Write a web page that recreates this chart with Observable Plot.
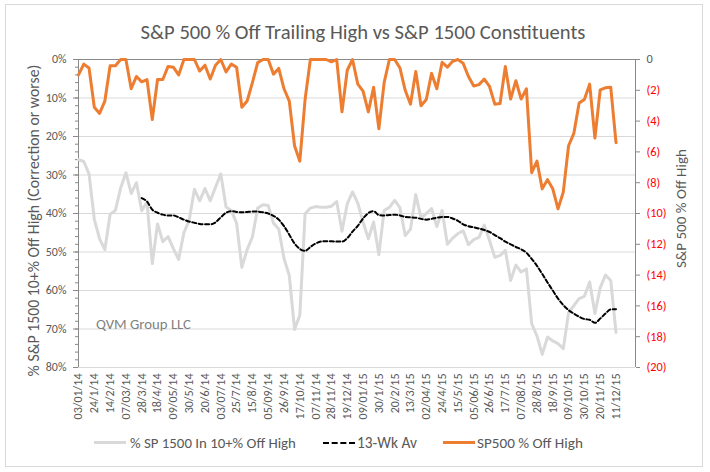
<!DOCTYPE html>
<html><head><meta charset="utf-8">
<script src="https://cdn.jsdelivr.net/npm/d3@7"></script>
<script src="https://cdn.jsdelivr.net/npm/@observablehq/plot@0.6"></script>
<style>
body{margin:0;background:#fff;font-family:Carlito,Lato,sans-serif;color:#595959;}
#wrap{position:relative;width:710px;height:472px;overflow:hidden;background:#fff;}
#frame{position:absolute;left:5px;top:4px;width:696px;height:461px;border:1px solid #d9d9d9;}
#title{position:absolute;left:8px;top:20px;width:710px;text-align:center;line-height:24px;color:#595959;white-space:nowrap;}
#chart{position:absolute;left:0;top:0;}
#wm{position:absolute;left:96px;top:316px;line-height:16px;color:#7f7f7f;white-space:nowrap;}
.lg{position:absolute;top:434px;height:18px;line-height:18px;color:#595959;white-space:nowrap;}
.lg span{position:absolute;top:0;white-space:nowrap;}
.sw{position:absolute;width:32px;height:0;left:0;}
</style></head><body>
<div id="wrap">
  <div id="frame"></div>
  <div id="title">S&amp;P 500 % Off Trailing High vs S&amp;P 1500 Constituents</div>
  <div id="chart"></div>
  <div id="wm">QVM Group LLC</div>
  <div class="lg" style="left:94px"><div class="sw" style="border-top:3px solid #d9d9d9;top:7px"></div><span id="lg1" style="left:36px">% SP 1500 In 10+% Off High</span></div>
  <div class="lg" style="left:323px"><div class="sw" style="border-top:2px dashed #000;top:8px"></div><span id="lg2" style="left:34px">13-Wk Av</span></div>
  <div class="lg" style="left:443px"><div class="sw" style="border-top:3px solid #ED7D31;top:7px"></div><span id="lg3" style="left:34px">SP500 % Off High</span></div>
</div>
<script>
const dateLabels = ["03/01/14","24/1/14","14/2/14","07/03/14","28/3/14","18/4/14","09/05/14","30/5/14","20/6/14","03/07/14","25/7/14","15/8/14","05/09/14","26/9/14","17/10/14","07/11/14","28/11/14","19/12/14","09/01/15","30/1/15","20/2/15","13/3/15","02/04/15","24/4/15","15/5/15","05/06/15","26/6/15","17/7/15","07/08/15","28/8/15","18/9/15","09/10/15","30/10/15","20/11/15","11/12/15"];

// % of S&P 1500 constituents 10%+ off their high (weekly)
const pct1500OffHigh = [26.0,26.5,29.7,41.5,46.6,49.4,40.2,39.2,33.4,29.4,34.8,32.0,39.3,37.0,53.0,42.7,47.3,46.0,49.1,51.9,
45.0,41.8,33.7,36.7,33.5,36.7,33.2,29.7,38.3,39.2,42.5,54.0,49.4,46.1,38.6,37.7,37.9,42.5,44.0,51.7,
56.1,70.1,66.4,40.1,38.6,38.2,38.4,38.4,38.1,36.9,44.6,37.5,34.4,37.3,42.2,46.6,42.2,50.7,39.2,38.4,
36.6,38.5,45.7,44.1,35.1,41.2,40.0,38.7,43.4,39.2,48.0,46.4,45.2,44.5,48.1,46.8,46.2,43.0,47.0,51.4,
50.9,49.6,57.4,53.4,55.2,54.4,68.6,71.8,76.6,72.1,73.1,73.8,75.1,65.8,63.9,62.1,61.5,57.8,66.0,59.3,
56.0,57.4,70.9];

// 13-week average (starts at week 13)
const avg13Wk = [null,null,null,null,null,null,null,null,null,null,null,null,
36.0,36.9,39.0,39.8,40.3,40.5,40.5,41.0,41.6,42.1,42.4,42.7,42.8,42.8,42.3,41.0,39.8,39.4,
39.6,39.7,39.6,39.5,39.5,39.7,40.0,40.6,41.6,43.3,45.5,47.8,49.2,49.7,48.7,47.8,47.3,47.2,47.2,47.3,
47.3,46.4,44.7,43.2,41.3,39.9,39.4,40.4,40.5,40.4,40.3,40.5,40.9,41.0,41.1,41.4,41.6,41.4,41.1,40.9,
40.9,41.3,41.9,42.8,43.3,43.6,43.9,44.3,44.8,45.6,46.4,47.3,48.0,48.7,49.3,50.2,51.8,53.6,55.7,57.9,
60.0,62.1,63.8,65.1,66.0,66.8,67.4,67.6,68.4,67.3,66.0,64.9,64.9];

// S&P 500 % off trailing high
const sp500OffHigh = [-1.0,-0.3,-0.55,-3.1,-3.5,-2.7,-0.4,-0.4,0,0,-1.9,-1.1,-1.45,-1.3,-3.9,-1.3,-1.3,-0.45,-0.5,-1.0,
0,0,0,-0.75,-0.37,-1.27,-0.37,0,-0.8,-0.3,-0.5,-3.1,-2.7,-1.5,-0.2,0,0,-0.95,-0.58,-1.9,
-2.7,-5.6,-6.6,-2.6,0,0,0,0,-0.15,0,-3.4,-0.7,0,-1.6,-2.05,-3.4,-1.8,-4.5,-1.5,0,
0,-0.55,-2.0,-2.9,-0.78,-3.0,-2.6,-0.9,-1.9,-0.18,-0.5,-0.12,0,-0.25,-1.1,-1.72,-1.63,-1.27,-1.75,-2.9,
-2.86,-0.45,-2.57,-1.38,-2.57,-1.9,-7.35,-6.6,-8.4,-7.8,-8.4,-9.7,-8.6,-5.6,-4.8,-2.83,-2.6,-1.6,-5.1,-1.97,
-1.84,-1.8,-5.4];

const leftTicks = [0,10,20,30,40,50,60,70,80];
const leftMinor = d3.range(0, 81, 2);
const rightTicks = [0,-2,-4,-6,-8,-10,-12,-14,-16,-18,-20];
const leftAxisTitle = "% S&P 1500 10+% Off High (Correction or worse)";
const rightAxisTitle = "S&P 500 % Off High";

const font = "Carlito, Lato, sans-serif";
const ctx = document.createElement("canvas").getContext("2d");
function fitSize(text, target) {
  ctx.font = `100px ${font}`;
  return 100 * target / ctx.measureText(text).width;
}

// font sizes fitted to the reference text widths
const fsTitle = fitSize("S&P 500 % Off Trailing High vs S&P 1500 Constituents", 445);
const fsLeftTitle = fitSize(leftAxisTitle, 312);
const fsRightTitle = fitSize(rightAxisTitle, 119);
const fsLeftTick = fitSize("80%", 20.7);
const fsRightTick = fitSize("(20)", 20);
const fsX = fitSize("03/01/14", 46);
const fsWm = fitSize("QVM Group LLC", 95);
document.getElementById("title").style.fontSize = fsTitle + "px";
document.getElementById("wm").style.fontSize = fsWm + "px";
document.getElementById("lg1").style.fontSize = fitSize("% SP 1500 In 10+% Off High", 166) + "px";
document.getElementById("lg2").style.fontSize = fitSize("13-Wk Av", 60) + "px";
document.getElementById("lg3").style.fontSize = fitSize("SP500 % Off High", 106) + "px";

const K = 80 / 20; // left-axis units per right-axis unit
const rows = pct1500OffHigh.map((v, i) => ({i, gray: v, avg: avg13Wk[i], sp: sp500OffHigh[i]}));
const xMax = 105.7;

const chart = Plot.plot({
  width: 710, height: 472,
  marginLeft: 78, marginRight: 75, marginTop: 59, marginBottom: 105,
  style: {fontFamily: font, background: "transparent", color: "#595959", overflow: "visible"},
  x: {domain: [0, xMax], axis: null},
  y: {domain: [0, 80], reverse: true, axis: null},
  marks: [
    Plot.ruleY(leftTicks.filter(t => t > 0), {stroke: "#d9d9d9", strokeWidth: 1}),
    Plot.ruleY([0], {stroke: "#898989", strokeWidth: 1}),
    Plot.ruleX([0], {stroke: "#898989", strokeWidth: 1}),
    Plot.ruleX([xMax], {stroke: "#898989", strokeWidth: 1}),
    Plot.axisY(leftMinor, {anchor: "left", tickSize: 3, stroke: "#898989", fill: "none", label: null}),
    Plot.axisY(leftTicks, {anchor: "left", tickSize: 5, stroke: "#898989", fill: "none", label: null}),
    Plot.axisY(rightTicks.map(d => -d * K), {anchor: "right", tickSize: 4, stroke: "#898989", fill: "none", label: null}),
    Plot.text(leftTicks, {y: d => d, text: d => d + "%", frameAnchor: "left", dx: -12, textAnchor: "end", lineAnchor: "middle", fontSize: fsLeftTick, fill: "#595959"}),
    Plot.text(rightTicks, {y: d => -d * K, text: d => d === 0 ? "0" : `(${-d})`, frameAnchor: "right", dx: 11, textAnchor: "start", lineAnchor: "middle", fontSize: fsRightTick, fill: d => d === 0 ? "#595959" : "#ff0000"}),
    Plot.text(dateLabels, {x: (d, k) => 3 * k, text: d => d, frameAnchor: "bottom", dy: 6, rotate: -90, textAnchor: "end", lineAnchor: "middle", fontSize: fsX, fill: "#595959"}),
    Plot.text([leftAxisTitle], {text: d => d, frameAnchor: "left", dx: -45, dy: 7, rotate: -90, textAnchor: "middle", lineAnchor: "middle", fontSize: fsLeftTitle, fill: "#595959"}),
    Plot.text([rightAxisTitle], {text: d => d, frameAnchor: "right", dx: 46, dy: -5, rotate: -90, textAnchor: "middle", lineAnchor: "middle", fontSize: fsRightTitle, fill: "#595959"}),
    Plot.line(rows, {x: "i", y: "gray", stroke: "#d9d9d9", strokeWidth: 3, strokeLinejoin: "round"}),
    Plot.line(rows.filter(d => d.avg != null), {x: "i", y: "avg", stroke: "#000", strokeWidth: 2, strokeDasharray: "4,2.5", curve: "monotone-x"}),
    Plot.line(rows, {x: "i", y: d => -d.sp * K, stroke: "#ED7D31", strokeWidth: 3, strokeLinejoin: "round"})
  ]
});
document.getElementById("chart").appendChild(chart);
</script>
</body></html>
